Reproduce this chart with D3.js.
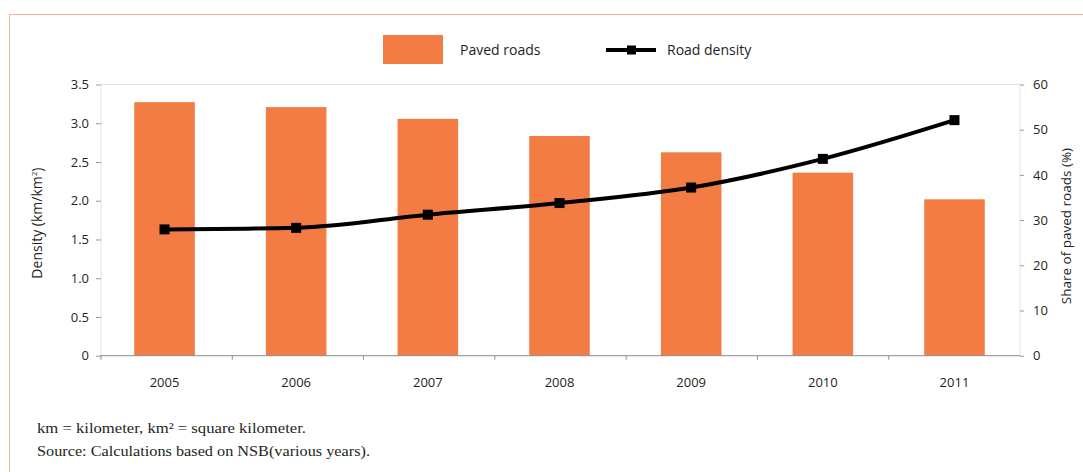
<!DOCTYPE html>
<html>
<head>
<meta charset="utf-8">
<script src="https://cdn.jsdelivr.net/npm/d3@7"></script>
<style>
  html, body { margin: 0; padding: 0; background: #fff; }
  svg { display: block; }
  .tick text { font-family: "Open Sans", sans-serif; font-size: 13px; fill: #231f20; }
</style>
</head>
<body>
<svg id="chart" width="1083" height="472"></svg>
<script>
// Road network indicators by year
const years = ["2005", "2006", "2007", "2008", "2009", "2010", "2011"];
const pavedShare = [56.1, 55.0, 52.4, 48.6, 45.0, 40.5, 34.6];      // % of roads paved
const roadDensity = [1.63, 1.65, 1.82, 1.97, 2.17, 2.54, 3.04];     // km per km²
const densityTicks = [0, 0.5, 1.0, 1.5, 2.0, 2.5, 3.0, 3.5];
const shareTicks = [0, 10, 20, 30, 40, 50, 60];
const notes = [
  "km = kilometer, km\u00B2 = square kilometer.",
  "Source: Calculations based on NSB(various years)."
];
const noteWidths = [269, 333];

const svg = d3.select("#chart");
const W = 1083, H = 472;
const m = { left: 101, right: 1020, top: 84.5, bottom: 355.7 };
const barColor = "#f37c45";

// outer frame
svg.append("rect")
  .attr("x", 9.5).attr("y", 14.5)
  .attr("width", W + 10).attr("height", H + 10)
  .attr("fill", "none").attr("stroke", "#f8b497").attr("stroke-width", 1);

const x = d3.scaleBand().domain(years).range([m.left, m.right]).paddingInner(0.54).paddingOuter(0.26);
const yL = d3.scaleLinear().domain([0, 3.5]).range([m.bottom, m.top]);
const yR = d3.scaleLinear().domain([0, 60]).range([m.bottom, m.top]);

// plot frame (top, left, right)
svg.append("path")
  .attr("d", `M${m.left},${m.bottom}V${m.top}H${m.right}V${m.bottom}`)
  .attr("fill", "none").attr("stroke", "#e4e4e4").attr("stroke-width", 1);

// bars: share of paved roads
svg.append("g").selectAll("rect")
  .data(years.map((y, i) => ({ year: y, v: pavedShare[i] })))
  .join("rect")
  .attr("x", d => x(d.year) - 1)
  .attr("width", x.bandwidth())
  .attr("y", d => yR(d.v))
  .attr("height", d => yR(0) - yR(d.v))
  .attr("fill", barColor);

// left axis
const axL = svg.append("g").attr("transform", `translate(${m.left},0)`)
  .call(d3.axisLeft(yL).tickValues(densityTicks).tickSize(5).tickPadding(7)
    .tickFormat(d => d === 0 ? "0" : d3.format(".1f")(d)));
axL.select(".domain").remove();
axL.selectAll(".tick line").attr("stroke", "#9a9a9a");

// right axis
const axR = svg.append("g").attr("transform", `translate(${m.right},0)`)
  .call(d3.axisRight(yR).tickValues(shareTicks).tickSize(4).tickPadding(9));
axR.select(".domain").remove();
axR.selectAll(".tick line").attr("stroke", "#9a9a9a");

// bottom axis
const bounds = years.map((y, i) => m.left + i * (m.right - m.left) / years.length);
const gB = svg.append("g");
gB.append("line").attr("x1", m.left - 1).attr("x2", m.right).attr("y1", m.bottom).attr("y2", m.bottom)
  .attr("stroke", "#8c8c8c").attr("stroke-width", 1);
gB.selectAll("line.tk").data(bounds).join("line").attr("class", "tk")
  .attr("x1", d => d).attr("x2", d => d).attr("y1", m.bottom).attr("y2", m.bottom + 4)
  .attr("stroke", "#8c8c8c");
gB.selectAll("text").data(years).join("text")
  .attr("x", d => x(d) + x.bandwidth() / 2 - 1)
  .attr("y", 387)
  .attr("text-anchor", "middle")
  .attr("font-family", "'Open Sans', sans-serif").attr("font-size", 13).attr("font-weight", 500)
  .attr("fill", "#231f20")
  .text(d => d);

// line: road density
const pts = years.map((y, i) => [x(y) + x.bandwidth() / 2 - 1, yL(roadDensity[i])]);
svg.append("path")
  .attr("d", d3.line().curve(d3.curveMonotoneX)(pts))
  .attr("fill", "none").attr("stroke", "#000").attr("stroke-width", 4).attr("stroke-linejoin", "round");
svg.append("g").selectAll("rect").data(pts).join("rect")
  .attr("x", d => d[0] - 5).attr("y", d => d[1] - 5)
  .attr("width", 10).attr("height", 10).attr("fill", "#000");

// axis titles
svg.append("text")
  .attr("transform", `translate(42,${(m.top + m.bottom) / 2 + 3}) rotate(-90)`)
  .attr("text-anchor", "middle")
  .attr("font-family", "'Open Sans', sans-serif").attr("font-size", 14).attr("fill", "#231f20")
  .html("Density (km/km<tspan dy='-5' font-size='8'>2</tspan><tspan dy='5'>)</tspan>");
svg.append("text")
  .attr("transform", `translate(1071,${(m.top + m.bottom) / 2 + 6}) rotate(-90)`)
  .attr("text-anchor", "middle")
  .attr("font-family", "'Open Sans', sans-serif").attr("font-size", 13.5).attr("fill", "#231f20")
  .text("Share of paved roads (%)");

// legend
const lg = svg.append("g").attr("font-family", "'Open Sans', sans-serif").attr("font-size", 14).attr("fill", "#231f20");
lg.append("rect").attr("x", 383).attr("y", 35).attr("width", 60).attr("height", 29).attr("fill", barColor);
lg.append("text").attr("x", 460).attr("y", 55).text("Paved roads");
lg.append("line").attr("x1", 606).attr("x2", 656).attr("y1", 50).attr("y2", 50).attr("stroke", "#000").attr("stroke-width", 4);
lg.append("rect").attr("x", 627).attr("y", 45.5).attr("width", 9).attr("height", 9).attr("fill", "#000");
lg.append("text").attr("x", 667).attr("y", 55).text("Road density");

// notes
svg.append("g").selectAll("text").data(notes).join("text")
  .attr("x", 37).attr("y", (d, i) => 433 + i * 23)
  .attr("font-family", "'Liberation Serif', 'DejaVu Serif', serif").attr("font-size", 15)
  .attr("textLength", (d, i) => noteWidths[i]).attr("lengthAdjust", "spacingAndGlyphs")
  .attr("fill", "#231f20")
  .text(d => d);
</script>
</body>
</html>
